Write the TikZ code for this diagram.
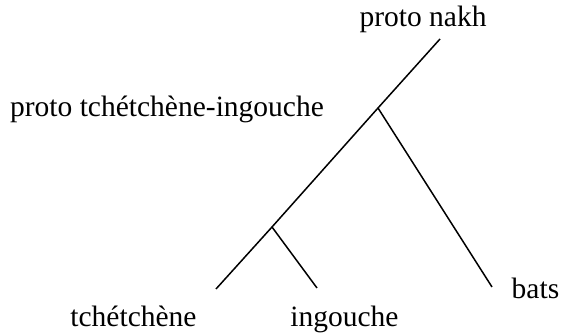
\documentclass[tikz,border=0pt]{standalone}
\usepackage{fontspec}
\setmainfont{Liberation Serif}
\begin{document}
\begin{tikzpicture}[x=1pt,y=-1pt,
  lbl/.style={anchor=base,inner sep=0pt,font=\fontsize{29.5}{32}\selectfont},
  edge/.style={line width=1.5pt}]
\useasboundingbox (0,0) rectangle (563,336);
\coordinate (top) at (440,39);
\coordinate (j1) at (378,108);
\coordinate (j2) at (272,227);
\coordinate (lt) at (216,289);
\coordinate (li) at (317,288);
\coordinate (lb) at (492,287);
\node[lbl] (pn) at (423,27) {proto nakh};
\node[lbl] (pti) at (167,117) {proto tchétchène-ingouche};
\node[lbl] (tc) at (133.5,327) {tchétchène};
\node[lbl] (ing) at (344.5,327) {ingouche};
\node[lbl] (bats) at (535.5,299) {bats};
\draw[edge] (top) -- (j1) -- (j2) -- (lt);
\draw[edge] (j1) -- (lb);
\draw[edge] (j2) -- (li);
\end{tikzpicture}
\end{document}
